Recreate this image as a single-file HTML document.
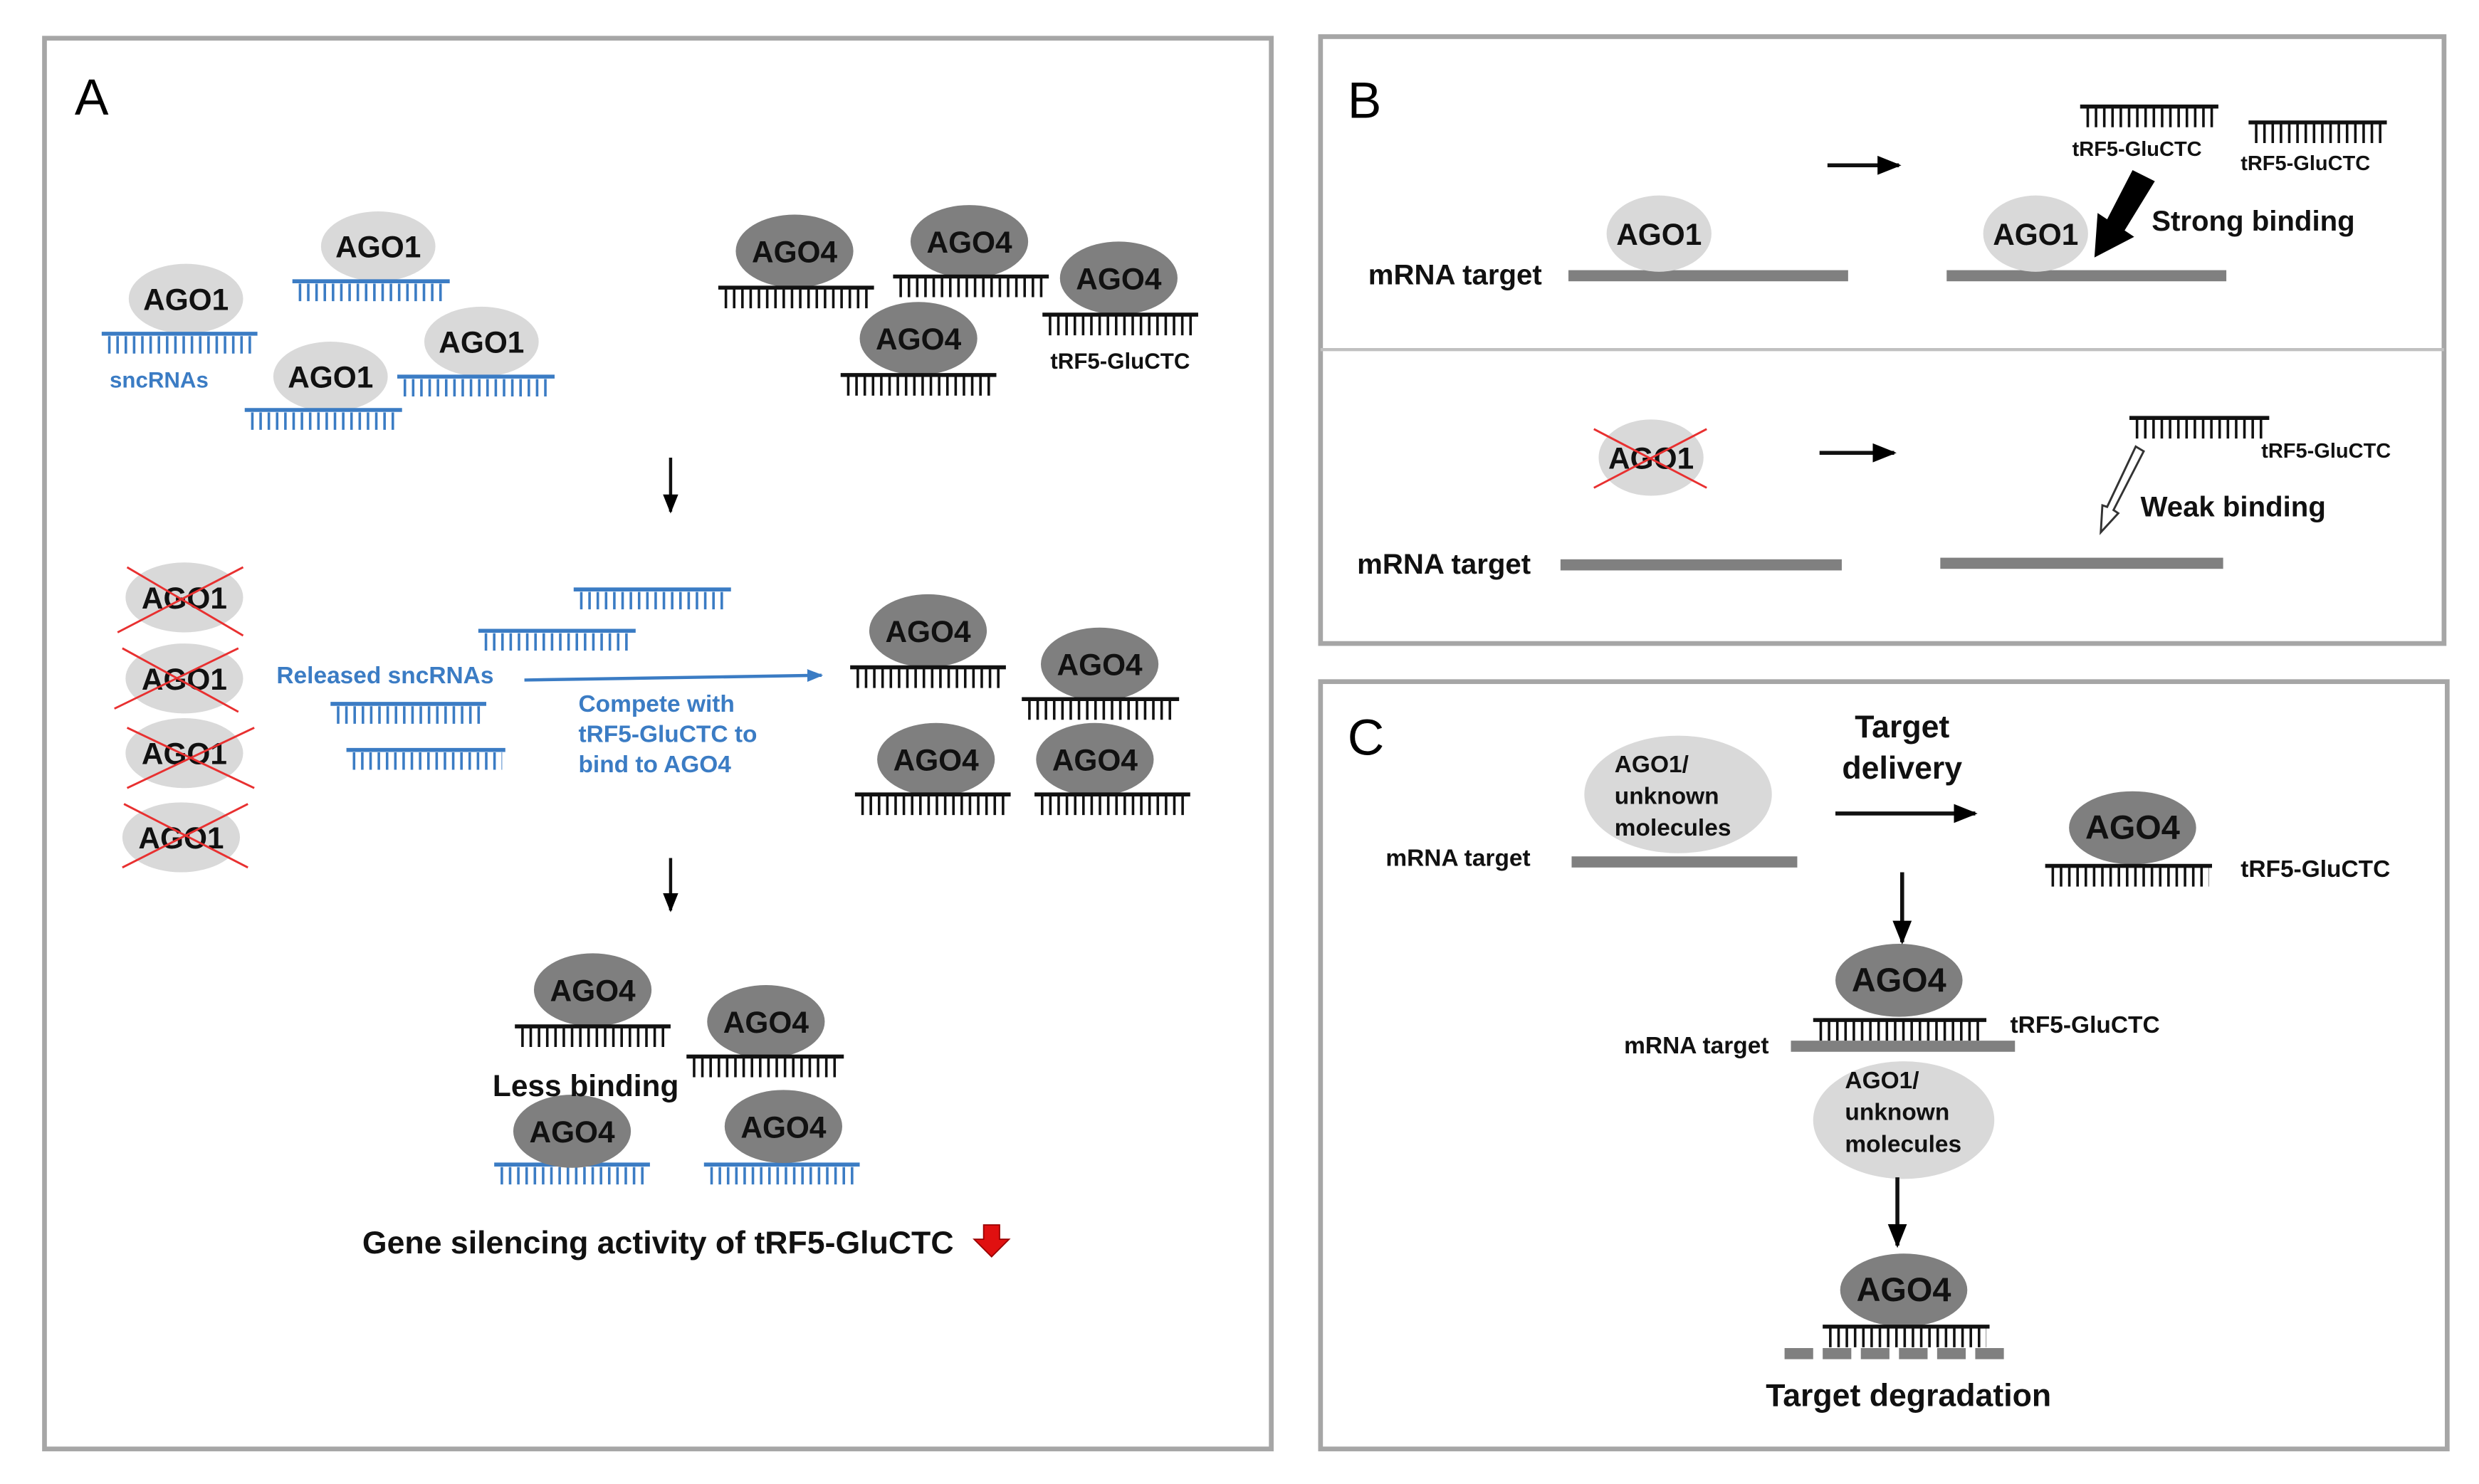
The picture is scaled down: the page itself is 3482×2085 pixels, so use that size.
<!DOCTYPE html>
<html><head><meta charset="utf-8"><style>html,body{margin:0;padding:0;background:#fff}svg{display:block}text{font-family:"Liberation Sans Narrow","Liberation Sans",sans-serif;font-weight:bold}</style></head>
<body>
<svg width="3482" height="2085" viewBox="0 0 1560 934" xmlns="http://www.w3.org/2000/svg">
<defs>
<marker id="ah" viewBox="0 0 10 10" refX="9" refY="5" markerWidth="6" markerHeight="6" orient="auto"><path d="M0,1 L10,5 L0,9 z" fill="#000"/></marker>
<marker id="ahb" viewBox="0 0 10 10" refX="9" refY="5" markerWidth="5" markerHeight="5" orient="auto"><path d="M0,1 L10,5 L0,9 z" fill="#3b7cc4"/></marker>
</defs>
<g fill="none" stroke="#a6a6a6" stroke-width="3">
<rect x="28" y="24" width="772" height="888"/>
<rect x="831" y="23" width="707" height="382"/>
<line x1="831" y1="220" x2="1538" y2="220" stroke-width="2" stroke="#c0c0c0"/>
<rect x="831" y="429" width="709" height="483"/>
</g>
<text x="47" y="72" font-size="32" style="font-weight:normal">A</text>
<text x="848" y="74" font-size="32" style="font-weight:normal">B</text>
<text x="848" y="475" font-size="32" style="font-weight:normal">C</text>

<g fill="#d9d9d9">
<ellipse cx="117" cy="188" rx="36" ry="22"/><ellipse cx="238" cy="155" rx="36" ry="22"/>
<ellipse cx="303" cy="215" rx="36" ry="22"/><ellipse cx="208" cy="237" rx="36" ry="22"/>
</g>
<g stroke="#3b7cc4" fill="none">
<g stroke-width="2.5"><path d="M64 210H162M184 177H283M250 237H349M154 258H253M361 371H460M301 397H400M208 443H306M218 472H318M311 733H409M443 733H541"/></g>
<g stroke-width="11" stroke-dasharray="1.6 3.6"><path d="M68 217H160M188 184H281M254 244H347M158 265H251M365 378H458M305 404H398M212 450H304M222 479H316M315 740H407M447 740H539"/></g>
</g>
<g font-size="19" text-anchor="middle" fill="#111">
<text x="117" y="195">AGO1</text><text x="238" y="162">AGO1</text><text x="303" y="222">AGO1</text><text x="208" y="244">AGO1</text>
</g>
<text x="69" y="244" font-size="14" fill="#3b7cc4">sncRNAs</text>

<g fill="#7f7f7f">
<ellipse cx="500" cy="158" rx="37" ry="23"/><ellipse cx="610" cy="152" rx="37" ry="23"/>
<ellipse cx="704" cy="175" rx="37" ry="23"/><ellipse cx="578" cy="213" rx="37" ry="23"/>
<ellipse cx="584" cy="397" rx="37" ry="23"/><ellipse cx="692" cy="418" rx="37" ry="23"/>
<ellipse cx="589" cy="478" rx="37" ry="23"/><ellipse cx="689" cy="478" rx="37" ry="23"/>
<ellipse cx="373" cy="623" rx="37" ry="23"/><ellipse cx="482" cy="643" rx="37" ry="23"/>
<ellipse cx="360" cy="712" rx="37" ry="23"/><ellipse cx="493" cy="709" rx="37" ry="23"/>
<ellipse cx="1342" cy="521" rx="40" ry="23"/><ellipse cx="1195" cy="617" rx="40" ry="23"/>
<ellipse cx="1198" cy="812" rx="40" ry="23"/>
</g>
<g stroke="#111" fill="none">
<g stroke-width="2.5"><path d="M452 181H550M562 174H660M656 198H754M529 236H627M535 420H633M643 440H742M538 500H636M651 500H749M324 646H422M432 665H531M1309 67H1396M1415 77H1502M1340 263H1428M1287 545H1392M1141 642H1250M1147 835H1252"/></g>
<g stroke-width="12" stroke-dasharray="1.6 3.6"><path d="M456 188H548M566 181H658M660 205H752M533 243H625M539 427H631M647 447H740M542 507H634M655 507H747M328 653H420M436 672H529M1313 74H1394M1419 84H1500M1344 270H1426M1291 552H1390M1145 649H1248M1151 842H1250"/></g>
</g>
<g font-size="19" text-anchor="middle" fill="#111">
<text x="500" y="165">AGO4</text><text x="610" y="159">AGO4</text><text x="704" y="182">AGO4</text><text x="578" y="220">AGO4</text>
<text x="584" y="404">AGO4</text><text x="692" y="425">AGO4</text><text x="589" y="485">AGO4</text><text x="689" y="485">AGO4</text>
<text x="373" y="630">AGO4</text><text x="482" y="650">AGO4</text><text x="360" y="719">AGO4</text><text x="493" y="716">AGO4</text>
<text x="1342" y="528" font-size="21">AGO4</text><text x="1195" y="624" font-size="21">AGO4</text><text x="1198" y="819" font-size="21">AGO4</text>
</g>
<text x="661" y="232" font-size="14" fill="#111">tRF5-GluCTC</text>

<g stroke="#111" stroke-width="2" marker-end="url(#ah)">
<line x1="422" y1="288" x2="422" y2="322"/><line x1="422" y1="540" x2="422" y2="573"/>
</g>
<g fill="#d9d9d9">
<ellipse cx="116" cy="376" rx="37" ry="22"/><ellipse cx="116" cy="427" rx="37" ry="22"/>
<ellipse cx="116" cy="474" rx="37" ry="22"/><ellipse cx="114" cy="527" rx="37" ry="22"/>
</g>
<g font-size="19" text-anchor="middle" fill="#111">
<text x="116" y="383">AGO1</text><text x="116" y="434">AGO1</text><text x="116" y="481">AGO1</text><text x="114" y="534">AGO1</text>
</g>
<g stroke="#e83030" stroke-width="1.3">
<path d="M80 357L153 400M74 398L153 357M77 408L150 448M72 446L150 408M80 458L160 496M80 496L160 458M78 506L156 546M77 546L156 506"/>
</g>
<text x="174" y="430" font-size="15" fill="#3b7cc4">Released sncRNAs</text>
<line x1="330" y1="428" x2="517" y2="425" stroke="#3b7cc4" stroke-width="2" marker-end="url(#ahb)"/>
<g font-size="15" fill="#3b7cc4"><text x="364" y="448">Compete with</text><text x="364" y="467">tRF5-GluCTC to</text><text x="364" y="486">bind to AGO4</text></g>
<text x="310" y="690" font-size="19" fill="#111">Less binding</text>
<text x="228" y="789" font-size="20" fill="#111">Gene silencing activity of tRF5-GluCTC</text>
<path d="M619 771H629V780H635L624 791L613 780H619Z" fill="#e01010" stroke="#900" stroke-width="0.8"/>

<g fill="#808080"><rect x="987" y="170" width="176" height="7"/><rect x="1225" y="170" width="176" height="7"/><rect x="982" y="352" width="177" height="7"/><rect x="1221" y="351" width="178" height="7"/></g>
<g fill="#d9d9d9"><ellipse cx="1044" cy="147" rx="33" ry="24"/><ellipse cx="1281" cy="147" rx="33" ry="24"/><ellipse cx="1039" cy="288" rx="33" ry="24"/></g>
<g font-size="19" text-anchor="middle" fill="#111"><text x="1044" y="154">AGO1</text><text x="1281" y="154">AGO1</text><text x="1039" y="295">AGO1</text></g>
<path d="M1003 270L1074 307M1003 307L1074 270" stroke="#e83030" stroke-width="1.3"/>
<g font-size="18" fill="#111"><text x="861" y="179">mRNA target</text><text x="854" y="361">mRNA target</text><text x="1354" y="145">Strong binding</text><text x="1347" y="325">Weak binding</text></g>
<g font-size="13" fill="#111"><text x="1304" y="98">tRF5-GluCTC</text><text x="1410" y="107">tRF5-GluCTC</text><text x="1423" y="288">tRF5-GluCTC</text></g>
<g stroke="#111" stroke-width="2.5" marker-end="url(#ah)"><line x1="1150" y1="104" x2="1195" y2="104"/><line x1="1145" y1="285" x2="1192" y2="285"/></g>
<path d="M1342 107L1356 114L1337 145L1343 149L1318 162L1320 134L1326 138Z" fill="#000"/>
<path d="M1344 281L1349 284L1330 321L1333 323L1322 335L1323 318L1326 319Z" fill="#fff" stroke="#333" stroke-width="1.3"/>

<g fill="#808080"><rect x="989" y="539" width="142" height="7"/><rect x="1127" y="655" width="141" height="7"/></g>
<path d="M1123 852H1265" stroke="#808080" stroke-width="7" stroke-dasharray="18 6"/>
<g fill="#d9d9d9"><ellipse cx="1056" cy="500" rx="59" ry="37"/><ellipse cx="1198" cy="705" rx="57" ry="37"/></g>
<g font-size="15" fill="#111">
<text x="1016" y="486">AGO1/</text><text x="1016" y="506">unknown</text><text x="1016" y="526">molecules</text>
<text x="1161" y="685">AGO1/</text><text x="1161" y="705">unknown</text><text x="1161" y="725">molecules</text>
<text x="872" y="545">mRNA target</text><text x="1022" y="663">mRNA target</text>
<text x="1410" y="552">tRF5-GluCTC</text><text x="1265" y="650">tRF5-GluCTC</text>
</g>
<g font-size="20" fill="#111" text-anchor="middle"><text x="1197" y="464">Target</text><text x="1197" y="490">delivery</text><text x="1201" y="885">Target degradation</text></g>
<g stroke="#111" stroke-width="2.5" marker-end="url(#ah)"><line x1="1155" y1="512" x2="1243" y2="512"/><line x1="1197" y1="549" x2="1197" y2="593"/><line x1="1194" y1="741" x2="1194" y2="784"/></g>
</svg>
</body></html>
